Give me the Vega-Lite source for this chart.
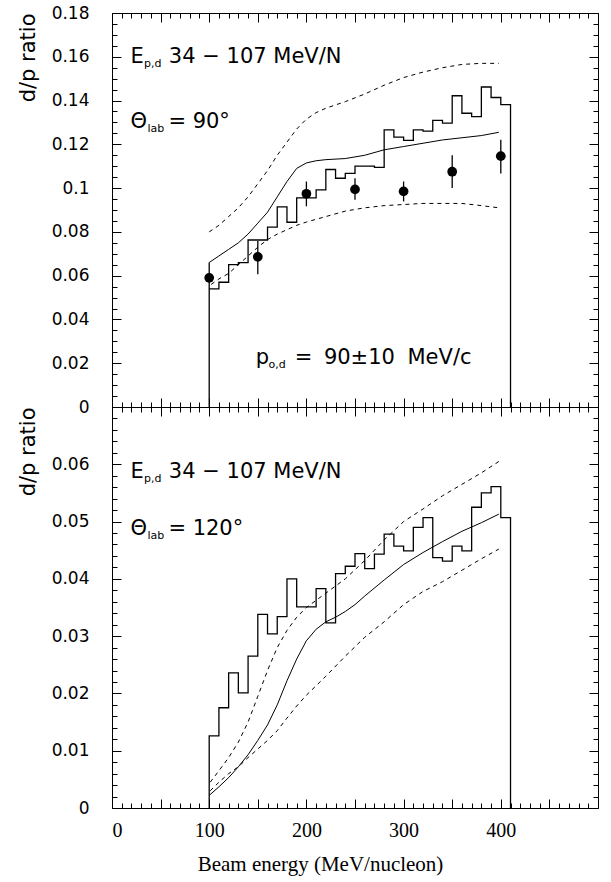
{
  "$schema": "https://vega.github.io/schema/vega-lite/v6.json",
  "background": "white",
  "padding": {"left": 16, "top": 3, "right": 12, "bottom": 4},
  "spacing": 0,
  "bounds": "flush",
  "config": {
    "view": {"stroke": "black", "strokeWidth": 1},
    "axis": {"domain": false, "grid": false, "tickColor": "black", "tickWidth": 1, "labelColor": "black", "titleColor": "black"}
  },
  "datasets": {
    "hist": [
      {"p": "top", "i": 0, "x": 100, "y": 0},
      {"p": "top", "i": 1, "x": 100, "y": 0.066},
      {"p": "top", "i": 2, "x": 100, "y": 0.054},
      {"p": "top", "i": 3, "x": 110, "y": 0.057},
      {"p": "top", "i": 4, "x": 120, "y": 0.065},
      {"p": "top", "i": 5, "x": 130, "y": 0.066},
      {"p": "top", "i": 6, "x": 140, "y": 0.0763},
      {"p": "top", "i": 7, "x": 150, "y": 0.0763},
      {"p": "top", "i": 8, "x": 160, "y": 0.0822},
      {"p": "top", "i": 9, "x": 170, "y": 0.0914},
      {"p": "top", "i": 10, "x": 180, "y": 0.0844},
      {"p": "top", "i": 11, "x": 190, "y": 0.0955},
      {"p": "top", "i": 12, "x": 200, "y": 0.0955},
      {"p": "top", "i": 13, "x": 210, "y": 0.0992},
      {"p": "top", "i": 14, "x": 220, "y": 0.1085},
      {"p": "top", "i": 15, "x": 230, "y": 0.1045},
      {"p": "top", "i": 16, "x": 240, "y": 0.1067},
      {"p": "top", "i": 17, "x": 250, "y": 0.110},
      {"p": "top", "i": 18, "x": 260, "y": 0.110},
      {"p": "top", "i": 19, "x": 270, "y": 0.1095},
      {"p": "top", "i": 20, "x": 280, "y": 0.1266},
      {"p": "top", "i": 21, "x": 290, "y": 0.1233},
      {"p": "top", "i": 22, "x": 300, "y": 0.1218},
      {"p": "top", "i": 23, "x": 310, "y": 0.1266},
      {"p": "top", "i": 24, "x": 320, "y": 0.126},
      {"p": "top", "i": 25, "x": 330, "y": 0.1309},
      {"p": "top", "i": 26, "x": 340, "y": 0.1297},
      {"p": "top", "i": 27, "x": 350, "y": 0.1422},
      {"p": "top", "i": 28, "x": 360, "y": 0.1342},
      {"p": "top", "i": 29, "x": 370, "y": 0.1327},
      {"p": "top", "i": 30, "x": 380, "y": 0.1462},
      {"p": "top", "i": 31, "x": 390, "y": 0.1414},
      {"p": "top", "i": 32, "x": 400, "y": 0.1381},
      {"p": "top", "i": 33, "x": 410, "y": 0.1381},
      {"p": "top", "i": 34, "x": 410, "y": 0},
      {"p": "bot", "i": 0, "x": 100, "y": 0},
      {"p": "bot", "i": 1, "x": 100, "y": 0.0126},
      {"p": "bot", "i": 2, "x": 110, "y": 0.0175},
      {"p": "bot", "i": 3, "x": 120, "y": 0.0236},
      {"p": "bot", "i": 4, "x": 130, "y": 0.0201},
      {"p": "bot", "i": 5, "x": 140, "y": 0.0265},
      {"p": "bot", "i": 6, "x": 150, "y": 0.0338},
      {"p": "bot", "i": 7, "x": 160, "y": 0.0304},
      {"p": "bot", "i": 8, "x": 170, "y": 0.0334},
      {"p": "bot", "i": 9, "x": 180, "y": 0.0400},
      {"p": "bot", "i": 10, "x": 190, "y": 0.0351},
      {"p": "bot", "i": 11, "x": 200, "y": 0.0351},
      {"p": "bot", "i": 12, "x": 210, "y": 0.0383},
      {"p": "bot", "i": 13, "x": 220, "y": 0.0323},
      {"p": "bot", "i": 14, "x": 230, "y": 0.0409},
      {"p": "bot", "i": 15, "x": 240, "y": 0.0422},
      {"p": "bot", "i": 16, "x": 250, "y": 0.0444},
      {"p": "bot", "i": 17, "x": 260, "y": 0.0418},
      {"p": "bot", "i": 18, "x": 270, "y": 0.0443},
      {"p": "bot", "i": 19, "x": 280, "y": 0.0478},
      {"p": "bot", "i": 20, "x": 290, "y": 0.0457},
      {"p": "bot", "i": 21, "x": 300, "y": 0.0449},
      {"p": "bot", "i": 22, "x": 310, "y": 0.0490},
      {"p": "bot", "i": 23, "x": 320, "y": 0.0507},
      {"p": "bot", "i": 24, "x": 330, "y": 0.0437},
      {"p": "bot", "i": 25, "x": 340, "y": 0.0431},
      {"p": "bot", "i": 26, "x": 350, "y": 0.0457},
      {"p": "bot", "i": 27, "x": 360, "y": 0.0449},
      {"p": "bot", "i": 28, "x": 370, "y": 0.0525},
      {"p": "bot", "i": 29, "x": 380, "y": 0.0550},
      {"p": "bot", "i": 30, "x": 390, "y": 0.0561},
      {"p": "bot", "i": 31, "x": 400, "y": 0.0507},
      {"p": "bot", "i": 32, "x": 410, "y": 0.0507},
      {"p": "bot", "i": 33, "x": 410, "y": 0}
    ],
    "curves": [
      {"p": "top", "c": "s", "x": 100, "y": 0.066},
      {"p": "top", "c": "s", "x": 110, "y": 0.069},
      {"p": "top", "c": "s", "x": 120, "y": 0.072},
      {"p": "top", "c": "s", "x": 130, "y": 0.075},
      {"p": "top", "c": "s", "x": 140, "y": 0.079},
      {"p": "top", "c": "s", "x": 150, "y": 0.084},
      {"p": "top", "c": "s", "x": 160, "y": 0.089},
      {"p": "top", "c": "s", "x": 170, "y": 0.096},
      {"p": "top", "c": "s", "x": 180, "y": 0.103},
      {"p": "top", "c": "s", "x": 190, "y": 0.109},
      {"p": "top", "c": "s", "x": 200, "y": 0.1115},
      {"p": "top", "c": "s", "x": 210, "y": 0.1125},
      {"p": "top", "c": "s", "x": 220, "y": 0.113},
      {"p": "top", "c": "s", "x": 240, "y": 0.1135},
      {"p": "top", "c": "s", "x": 260, "y": 0.115},
      {"p": "top", "c": "s", "x": 280, "y": 0.1175},
      {"p": "top", "c": "s", "x": 300, "y": 0.119},
      {"p": "top", "c": "s", "x": 320, "y": 0.1205},
      {"p": "top", "c": "s", "x": 340, "y": 0.122},
      {"p": "top", "c": "s", "x": 360, "y": 0.123},
      {"p": "top", "c": "s", "x": 380, "y": 0.124},
      {"p": "top", "c": "s", "x": 398, "y": 0.1255},
      {"p": "top", "c": "u", "x": 100, "y": 0.080},
      {"p": "top", "c": "u", "x": 110, "y": 0.083},
      {"p": "top", "c": "u", "x": 120, "y": 0.087},
      {"p": "top", "c": "u", "x": 130, "y": 0.091},
      {"p": "top", "c": "u", "x": 140, "y": 0.096},
      {"p": "top", "c": "u", "x": 150, "y": 0.102},
      {"p": "top", "c": "u", "x": 160, "y": 0.108},
      {"p": "top", "c": "u", "x": 170, "y": 0.115},
      {"p": "top", "c": "u", "x": 180, "y": 0.121},
      {"p": "top", "c": "u", "x": 190, "y": 0.127},
      {"p": "top", "c": "u", "x": 200, "y": 0.1315},
      {"p": "top", "c": "u", "x": 210, "y": 0.1345},
      {"p": "top", "c": "u", "x": 220, "y": 0.1365},
      {"p": "top", "c": "u", "x": 240, "y": 0.1395},
      {"p": "top", "c": "u", "x": 260, "y": 0.143},
      {"p": "top", "c": "u", "x": 280, "y": 0.147},
      {"p": "top", "c": "u", "x": 300, "y": 0.1505},
      {"p": "top", "c": "u", "x": 320, "y": 0.153},
      {"p": "top", "c": "u", "x": 340, "y": 0.155},
      {"p": "top", "c": "u", "x": 360, "y": 0.1565},
      {"p": "top", "c": "u", "x": 380, "y": 0.157},
      {"p": "top", "c": "u", "x": 398, "y": 0.157},
      {"p": "top", "c": "l", "x": 102, "y": 0.056},
      {"p": "top", "c": "l", "x": 110, "y": 0.0585},
      {"p": "top", "c": "l", "x": 120, "y": 0.061},
      {"p": "top", "c": "l", "x": 130, "y": 0.065},
      {"p": "top", "c": "l", "x": 140, "y": 0.069},
      {"p": "top", "c": "l", "x": 150, "y": 0.073},
      {"p": "top", "c": "l", "x": 160, "y": 0.0765},
      {"p": "top", "c": "l", "x": 170, "y": 0.079},
      {"p": "top", "c": "l", "x": 180, "y": 0.081},
      {"p": "top", "c": "l", "x": 190, "y": 0.083},
      {"p": "top", "c": "l", "x": 200, "y": 0.0845},
      {"p": "top", "c": "l", "x": 220, "y": 0.087},
      {"p": "top", "c": "l", "x": 240, "y": 0.0895},
      {"p": "top", "c": "l", "x": 260, "y": 0.091},
      {"p": "top", "c": "l", "x": 280, "y": 0.092},
      {"p": "top", "c": "l", "x": 300, "y": 0.0925},
      {"p": "top", "c": "l", "x": 320, "y": 0.093},
      {"p": "top", "c": "l", "x": 340, "y": 0.093},
      {"p": "top", "c": "l", "x": 360, "y": 0.093},
      {"p": "top", "c": "l", "x": 380, "y": 0.092},
      {"p": "top", "c": "l", "x": 398, "y": 0.091},
      {"p": "bot", "c": "s", "x": 100, "y": 0.0022},
      {"p": "bot", "c": "s", "x": 110, "y": 0.0037},
      {"p": "bot", "c": "s", "x": 120, "y": 0.0053},
      {"p": "bot", "c": "s", "x": 130, "y": 0.0072},
      {"p": "bot", "c": "s", "x": 140, "y": 0.0093},
      {"p": "bot", "c": "s", "x": 150, "y": 0.0118},
      {"p": "bot", "c": "s", "x": 160, "y": 0.0145},
      {"p": "bot", "c": "s", "x": 170, "y": 0.018},
      {"p": "bot", "c": "s", "x": 180, "y": 0.0222},
      {"p": "bot", "c": "s", "x": 190, "y": 0.026},
      {"p": "bot", "c": "s", "x": 200, "y": 0.0292},
      {"p": "bot", "c": "s", "x": 210, "y": 0.0312},
      {"p": "bot", "c": "s", "x": 220, "y": 0.0325},
      {"p": "bot", "c": "s", "x": 230, "y": 0.0333},
      {"p": "bot", "c": "s", "x": 240, "y": 0.0343},
      {"p": "bot", "c": "s", "x": 250, "y": 0.0355},
      {"p": "bot", "c": "s", "x": 260, "y": 0.037},
      {"p": "bot", "c": "s", "x": 280, "y": 0.0398},
      {"p": "bot", "c": "s", "x": 300, "y": 0.0425},
      {"p": "bot", "c": "s", "x": 320, "y": 0.0446},
      {"p": "bot", "c": "s", "x": 340, "y": 0.0465},
      {"p": "bot", "c": "s", "x": 360, "y": 0.0483},
      {"p": "bot", "c": "s", "x": 380, "y": 0.0498},
      {"p": "bot", "c": "s", "x": 398, "y": 0.0513},
      {"p": "bot", "c": "u", "x": 101, "y": 0.0045},
      {"p": "bot", "c": "u", "x": 110, "y": 0.0065},
      {"p": "bot", "c": "u", "x": 120, "y": 0.0088},
      {"p": "bot", "c": "u", "x": 130, "y": 0.0115},
      {"p": "bot", "c": "u", "x": 140, "y": 0.0150},
      {"p": "bot", "c": "u", "x": 150, "y": 0.0195},
      {"p": "bot", "c": "u", "x": 160, "y": 0.0240},
      {"p": "bot", "c": "u", "x": 170, "y": 0.0280},
      {"p": "bot", "c": "u", "x": 180, "y": 0.0310},
      {"p": "bot", "c": "u", "x": 190, "y": 0.0333},
      {"p": "bot", "c": "u", "x": 200, "y": 0.0350},
      {"p": "bot", "c": "u", "x": 220, "y": 0.0375},
      {"p": "bot", "c": "u", "x": 240, "y": 0.0400},
      {"p": "bot", "c": "u", "x": 260, "y": 0.0432},
      {"p": "bot", "c": "u", "x": 280, "y": 0.0468},
      {"p": "bot", "c": "u", "x": 300, "y": 0.0500},
      {"p": "bot", "c": "u", "x": 320, "y": 0.0522},
      {"p": "bot", "c": "u", "x": 340, "y": 0.0545},
      {"p": "bot", "c": "u", "x": 360, "y": 0.0565},
      {"p": "bot", "c": "u", "x": 380, "y": 0.0585},
      {"p": "bot", "c": "u", "x": 398, "y": 0.0605},
      {"p": "bot", "c": "l", "x": 101, "y": 0.0030},
      {"p": "bot", "c": "l", "x": 110, "y": 0.0045},
      {"p": "bot", "c": "l", "x": 120, "y": 0.0060},
      {"p": "bot", "c": "l", "x": 130, "y": 0.0072},
      {"p": "bot", "c": "l", "x": 140, "y": 0.0088},
      {"p": "bot", "c": "l", "x": 150, "y": 0.0103},
      {"p": "bot", "c": "l", "x": 160, "y": 0.0118},
      {"p": "bot", "c": "l", "x": 170, "y": 0.0135},
      {"p": "bot", "c": "l", "x": 180, "y": 0.0157},
      {"p": "bot", "c": "l", "x": 190, "y": 0.0178},
      {"p": "bot", "c": "l", "x": 200, "y": 0.0197},
      {"p": "bot", "c": "l", "x": 220, "y": 0.0230},
      {"p": "bot", "c": "l", "x": 240, "y": 0.0265},
      {"p": "bot", "c": "l", "x": 260, "y": 0.0298},
      {"p": "bot", "c": "l", "x": 280, "y": 0.0325},
      {"p": "bot", "c": "l", "x": 300, "y": 0.0355},
      {"p": "bot", "c": "l", "x": 320, "y": 0.0378},
      {"p": "bot", "c": "l", "x": 340, "y": 0.0395},
      {"p": "bot", "c": "l", "x": 360, "y": 0.0415},
      {"p": "bot", "c": "l", "x": 380, "y": 0.0435},
      {"p": "bot", "c": "l", "x": 398, "y": 0.0452}
    ],
    "pts": [
      {"x": 100, "y": 0.059, "lo": 0.059, "hi": 0.059},
      {"x": 150, "y": 0.0686, "lo": 0.0607, "hi": 0.0758},
      {"x": 200, "y": 0.0974, "lo": 0.0917, "hi": 0.103},
      {"x": 250, "y": 0.0994, "lo": 0.0947, "hi": 0.1045},
      {"x": 300, "y": 0.0985, "lo": 0.0939, "hi": 0.103},
      {"x": 350, "y": 0.1075, "lo": 0.100, "hi": 0.115},
      {"x": 400, "y": 0.1146, "lo": 0.1067, "hi": 0.1221}
    ],
    "ann": [
      {"p": "top", "part": "main", "x": 19, "y": 0.157, "t": "E"},
      {"p": "top", "part": "sub", "x": 33, "y": 0.1552, "t": "p,d"},
      {"p": "top", "part": "main", "x": 58.5, "y": 0.157, "t": "34 − 107 MeV/N"},
      {"p": "top", "part": "main", "x": 19, "y": 0.1274, "t": "Θ"},
      {"p": "top", "part": "sub", "x": 36.5, "y": 0.1256, "t": "lab"},
      {"p": "top", "part": "main", "x": 58, "y": 0.1274, "t": "= 90°"},
      {"p": "top", "part": "main", "x": 148, "y": 0.0198, "t": "p"},
      {"p": "top", "part": "sub", "x": 161, "y": 0.018, "t": "o,d"},
      {"p": "top", "part": "main", "x": 188, "y": 0.0198, "t": "="},
      {"p": "top", "part": "main", "x": 218, "y": 0.0198, "t": "90±10"},
      {"p": "top", "part": "main", "x": 304, "y": 0.0198, "t": "MeV/c"},
      {"p": "bot", "part": "main", "x": 19, "y": 0.0576, "t": "E"},
      {"p": "bot", "part": "sub", "x": 33, "y": 0.0569, "t": "p,d"},
      {"p": "bot", "part": "main", "x": 58.5, "y": 0.0576, "t": "34 − 107 MeV/N"},
      {"p": "bot", "part": "main", "x": 19, "y": 0.0476, "t": "Θ"},
      {"p": "bot", "part": "sub", "x": 36.5, "y": 0.0469, "t": "lab"},
      {"p": "bot", "part": "main", "x": 58, "y": 0.0476, "t": "= 120°"}
    ]
  },
  "vconcat": [
    {
      "width": 486,
      "height": 394,
      "resolve": {"axis": {"x": "independent", "y": "independent"}},
      "layer": [
        {
          "data": {"name": "hist"},
          "transform": [{"filter": "datum.p == 'top'"}],
          "mark": {"type": "line", "interpolate": "step-after", "color": "black", "strokeWidth": 1.3},
          "encoding": {
            "x": {"field": "x", "type": "quantitative", "scale": {"domain": [0, 500], "nice": false},
                  "axis": {"orient": "bottom", "values": [0,50,100,150,200,250,300,350,400,450,500], "tickSize": -9, "labels": false, "title": null}},
            "y": {"field": "y", "type": "quantitative", "scale": {"domain": [0, 0.18], "nice": false},
                  "axis": {"orient": "left", "values": [0,0.02,0.04,0.06,0.08,0.1,0.12,0.14,0.16,0.18], "tickSize": -9, "format": "~g",
                           "labelFont": "DejaVu Sans", "labelFontSize": 17, "labelPadding": 32,
                           "title": "d/p ratio", "titleAnchor": "end", "titleFont": "DejaVu Sans", "titleFontSize": 21, "titleFontWeight": "normal", "titlePadding": 13}},
            "order": {"field": "i", "type": "quantitative"}
          }
        },
        {
          "data": {"name": "curves"},
          "transform": [{"filter": "datum.p == 'top' && datum.c == 's'"}],
          "mark": {"type": "line", "color": "black", "strokeWidth": 1},
          "encoding": {
            "x": {"field": "x", "type": "quantitative", "scale": {"domain": [0, 500], "nice": false},
                  "axis": {"orient": "bottom", "values": [10,20,30,40,60,70,80,90,110,120,130,140,160,170,180,190,210,220,230,240,260,270,280,290,310,320,330,340,360,370,380,390,410,420,430,440,460,470,480,490], "tickSize": -5, "labels": false, "title": null}},
            "y": {"field": "y", "type": "quantitative", "scale": {"domain": [0, 0.18], "nice": false},
                  "axis": {"orient": "left", "values": [0.005,0.01,0.015,0.025,0.03,0.035,0.045,0.05,0.055,0.065,0.07,0.075,0.085,0.09,0.095,0.105,0.11,0.115,0.125,0.13,0.135,0.145,0.15,0.155,0.165,0.17,0.175], "tickSize": -5, "labels": false, "title": null}}
          }
        },
        {
          "data": {"name": "curves"},
          "transform": [{"filter": "datum.p == 'top' && datum.c == 'u'"}],
          "mark": {"type": "line", "color": "black", "strokeWidth": 1, "strokeDash": [4, 4]},
          "encoding": {
            "x": {"field": "x", "type": "quantitative", "scale": {"domain": [0, 500], "nice": false},
                  "axis": {"orient": "top", "values": [0,50,100,150,200,250,300,350,400,450,500], "tickSize": -9, "labels": false, "title": null}},
            "y": {"field": "y", "type": "quantitative", "scale": {"domain": [0, 0.18], "nice": false},
                  "axis": {"orient": "right", "values": [0,0.02,0.04,0.06,0.08,0.1,0.12,0.14,0.16,0.18], "tickSize": -9, "labels": false, "title": null}}
          }
        },
        {
          "data": {"name": "curves"},
          "transform": [{"filter": "datum.p == 'top' && datum.c == 'l'"}],
          "mark": {"type": "line", "color": "black", "strokeWidth": 1, "strokeDash": [4, 4]},
          "encoding": {
            "x": {"field": "x", "type": "quantitative", "scale": {"domain": [0, 500], "nice": false},
                  "axis": {"orient": "top", "values": [10,20,30,40,60,70,80,90,110,120,130,140,160,170,180,190,210,220,230,240,260,270,280,290,310,320,330,340,360,370,380,390,410,420,430,440,460,470,480,490], "tickSize": -5, "labels": false, "title": null}},
            "y": {"field": "y", "type": "quantitative", "scale": {"domain": [0, 0.18], "nice": false},
                  "axis": {"orient": "right", "values": [0.005,0.01,0.015,0.025,0.03,0.035,0.045,0.05,0.055,0.065,0.07,0.075,0.085,0.09,0.095,0.105,0.11,0.115,0.125,0.13,0.135,0.145,0.15,0.155,0.165,0.17,0.175], "tickSize": -5, "labels": false, "title": null}}
          }
        },
        {
          "data": {"name": "pts"},
          "mark": {"type": "rule", "color": "black", "strokeWidth": 1.3},
          "encoding": {
            "x": {"field": "x", "type": "quantitative", "axis": null},
            "y": {"field": "lo", "type": "quantitative", "axis": null},
            "y2": {"field": "hi"}
          }
        },
        {
          "data": {"name": "pts"},
          "mark": {"type": "circle", "color": "black", "opacity": 1, "size": 95},
          "encoding": {
            "x": {"field": "x", "type": "quantitative", "axis": null},
            "y": {"field": "y", "type": "quantitative", "axis": null}
          }
        },
        {
          "data": {"name": "ann"},
          "transform": [{"filter": "datum.p == 'top' && datum.part == 'main'"}],
          "mark": {"type": "text", "align": "left", "baseline": "alphabetic", "font": "DejaVu Sans", "fontSize": 21, "color": "black"},
          "encoding": {
            "x": {"field": "x", "type": "quantitative", "axis": null},
            "y": {"field": "y", "type": "quantitative", "axis": null},
            "text": {"field": "t"}
          }
        },
        {
          "data": {"name": "ann"},
          "transform": [{"filter": "datum.p == 'top' && datum.part == 'sub'"}],
          "mark": {"type": "text", "align": "left", "baseline": "alphabetic", "font": "DejaVu Sans", "fontSize": 11, "color": "black"},
          "encoding": {
            "x": {"field": "x", "type": "quantitative", "axis": null},
            "y": {"field": "y", "type": "quantitative", "axis": null},
            "text": {"field": "t"}
          }
        }
      ]
    },
    {
      "width": 486,
      "height": 401,
      "resolve": {"axis": {"x": "independent", "y": "independent"}},
      "layer": [
        {
          "data": {"name": "hist"},
          "transform": [{"filter": "datum.p == 'bot'"}],
          "mark": {"type": "line", "interpolate": "step-after", "color": "black", "strokeWidth": 1.3},
          "encoding": {
            "x": {"field": "x", "type": "quantitative", "scale": {"domain": [0, 500], "nice": false},
                  "axis": {"orient": "bottom", "values": [0,50,100,150,200,250,300,350,400,450,500], "tickSize": -9,
                           "labelExpr": "datum.value % 100 == 0 && datum.value < 500 ? datum.label : ''",
                           "labelFont": "Liberation Serif", "labelFontSize": 20, "labelPadding": 21,
                           "title": "Beam energy (MeV/nucleon)", "titleFont": "Liberation Serif", "titleFontSize": 21, "titleFontWeight": "normal", "titlePadding": 13, "titleX": 208}},
            "y": {"field": "y", "type": "quantitative", "scale": {"domain": [0, 0.07], "nice": false},
                  "axis": {"orient": "left", "values": [0,0.01,0.02,0.03,0.04,0.05,0.06], "tickSize": -9, "format": "~g",
                           "labelFont": "DejaVu Sans", "labelFontSize": 17, "labelPadding": 32,
                           "title": "d/p ratio", "titleAnchor": "end", "titleFont": "DejaVu Sans", "titleFontSize": 21, "titleFontWeight": "normal", "titlePadding": 13}},
            "order": {"field": "i", "type": "quantitative"}
          }
        },
        {
          "data": {"name": "curves"},
          "transform": [{"filter": "datum.p == 'bot' && datum.c == 's'"}],
          "mark": {"type": "line", "color": "black", "strokeWidth": 1},
          "encoding": {
            "x": {"field": "x", "type": "quantitative", "scale": {"domain": [0, 500], "nice": false},
                  "axis": {"orient": "bottom", "values": [10,20,30,40,60,70,80,90,110,120,130,140,160,170,180,190,210,220,230,240,260,270,280,290,310,320,330,340,360,370,380,390,410,420,430,440,460,470,480,490], "tickSize": -5, "labels": false, "title": null}},
            "y": {"field": "y", "type": "quantitative", "scale": {"domain": [0, 0.07], "nice": false},
                  "axis": {"orient": "left", "values": [0.002,0.004,0.006,0.008,0.012,0.014,0.016,0.018,0.022,0.024,0.026,0.028,0.032,0.034,0.036,0.038,0.042,0.044,0.046,0.048,0.052,0.054,0.056,0.058,0.062,0.064,0.066,0.068], "tickSize": -5, "labels": false, "title": null}}
          }
        },
        {
          "data": {"name": "curves"},
          "transform": [{"filter": "datum.p == 'bot' && datum.c == 'u'"}],
          "mark": {"type": "line", "color": "black", "strokeWidth": 1, "strokeDash": [4, 4]},
          "encoding": {
            "x": {"field": "x", "type": "quantitative", "scale": {"domain": [0, 500], "nice": false},
                  "axis": {"orient": "top", "values": [0,50,100,150,200,250,300,350,400,450,500], "tickSize": -9, "labels": false, "title": null}},
            "y": {"field": "y", "type": "quantitative", "scale": {"domain": [0, 0.07], "nice": false},
                  "axis": {"orient": "right", "values": [0,0.01,0.02,0.03,0.04,0.05,0.06], "tickSize": -9, "labels": false, "title": null}}
          }
        },
        {
          "data": {"name": "curves"},
          "transform": [{"filter": "datum.p == 'bot' && datum.c == 'l'"}],
          "mark": {"type": "line", "color": "black", "strokeWidth": 1, "strokeDash": [4, 4]},
          "encoding": {
            "x": {"field": "x", "type": "quantitative", "scale": {"domain": [0, 500], "nice": false},
                  "axis": {"orient": "top", "values": [10,20,30,40,60,70,80,90,110,120,130,140,160,170,180,190,210,220,230,240,260,270,280,290,310,320,330,340,360,370,380,390,410,420,430,440,460,470,480,490], "tickSize": -5, "labels": false, "title": null}},
            "y": {"field": "y", "type": "quantitative", "scale": {"domain": [0, 0.07], "nice": false},
                  "axis": {"orient": "right", "values": [0.002,0.004,0.006,0.008,0.012,0.014,0.016,0.018,0.022,0.024,0.026,0.028,0.032,0.034,0.036,0.038,0.042,0.044,0.046,0.048,0.052,0.054,0.056,0.058,0.062,0.064,0.066,0.068], "tickSize": -5, "labels": false, "title": null}}
          }
        },
        {
          "data": {"name": "ann"},
          "transform": [{"filter": "datum.p == 'bot' && datum.part == 'main'"}],
          "mark": {"type": "text", "align": "left", "baseline": "alphabetic", "font": "DejaVu Sans", "fontSize": 21, "color": "black"},
          "encoding": {
            "x": {"field": "x", "type": "quantitative", "axis": null},
            "y": {"field": "y", "type": "quantitative", "axis": null},
            "text": {"field": "t"}
          }
        },
        {
          "data": {"name": "ann"},
          "transform": [{"filter": "datum.p == 'bot' && datum.part == 'sub'"}],
          "mark": {"type": "text", "align": "left", "baseline": "alphabetic", "font": "DejaVu Sans", "fontSize": 11, "color": "black"},
          "encoding": {
            "x": {"field": "x", "type": "quantitative", "axis": null},
            "y": {"field": "y", "type": "quantitative", "axis": null},
            "text": {"field": "t"}
          }
        }
      ]
    }
  ]
}
